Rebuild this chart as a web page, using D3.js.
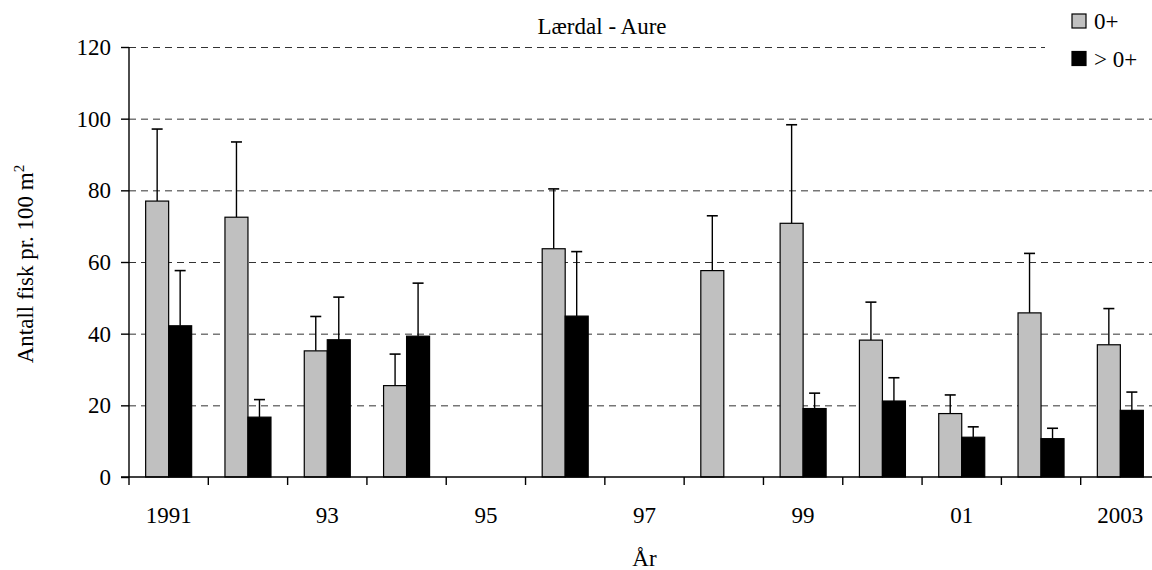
<!DOCTYPE html>
<html>
<head>
<meta charset="utf-8">
<script src="https://cdn.jsdelivr.net/npm/d3@7"></script>
<style>
  html, body { margin: 0; padding: 0; background: #fff; }
  svg, svg text { font-family: "Liberation Serif", "Times New Roman", "DejaVu Serif", serif; }
</style>
</head>
<body>
<svg id="chart" width="1152" height="570"></svg>
<script>
// Trout density in Lærdal, fish per 100 m², by year and age group
const years = ["1991","1992","1993","1994","1995","1996","1997","1998","1999","2000","2001","2002","2003"];
const yearLabels = ["1991","","93","","95","","97","","99","","01","","2003"];
const series = ["0+", "> 0+"];
const fry = [77, 72.5, 35.2, 25.5, null, 63.7, null, 57.6, 70.8, 38.2, 17.7, 45.8, 36.9];
const fryUpper = [97.1, 93.5, 44.8, 34.3, null, 80.4, null, 72.9, 98.3, 48.8, 22.9, 62.4, 47.0];
const older = [42.2, 16.7, 38.3, 39.3, null, 44.9, null, null, 19.1, 21.2, 11.1, 10.7, 18.6];
const olderUpper = [57.6, 21.6, 50.2, 54.1, null, 62.9, null, null, 23.4, 27.7, 14.0, 13.6, 23.7];
const yTicks = [0, 20, 40, 60, 80, 100, 120];
const fills = ["#c0c0c0", "#000000"];

const serif = "'Liberation Serif', 'Times New Roman', serif";
const svg = d3.select("#chart").attr("font-family", serif);
const plotLeft = 129, plotRight = 1160, plotTop = 47, plotBottom = 477;
const fontSize = 23;

const x = d3.scaleBand().domain(years).range([plotLeft, plotRight]).paddingInner(0).paddingOuter(0);
const x1 = d3.scaleBand().domain(series).range([0, x.bandwidth()]).paddingInner(0).paddingOuter(0.724);
const y = d3.scaleLinear().domain([0, 120]).range([plotBottom, plotTop]);

// dashed horizontal gridlines
svg.append("g")
  .selectAll("line")
  .data(yTicks.filter(t => t > 0))
  .join("line")
  .attr("x1", plotLeft).attr("x2", 1152)
  .attr("y1", d => y(d) + 0.5).attr("y2", d => y(d) + 0.5)
  .attr("stroke", "#333").attr("stroke-width", 1)
  .attr("stroke-dasharray", "7,5");

// bars
const rows = years.map((yr, i) => ({
  year: yr,
  vals: [
    { s: series[0], v: fry[i], u: fryUpper[i], fill: fills[0] },
    { s: series[1], v: older[i], u: olderUpper[i], fill: fills[1] }
  ]
}));

const groups = svg.append("g").selectAll("g")
  .data(rows).join("g")
  .attr("transform", d => `translate(${x(d.year)},0)`);

// error bars (drawn beneath bars so they start at the bar top)
groups.selectAll("g.err")
  .data(d => d.vals.filter(v => v.v != null && v.u != null))
  .join("g").attr("class", "err")
  .each(function(d) {
    const cx = x1(d.s) + x1.bandwidth() / 2;
    const g = d3.select(this);
    g.append("line")
      .attr("x1", cx).attr("x2", cx)
      .attr("y1", y(d.v)).attr("y2", y(d.u))
      .attr("stroke", "#000").attr("stroke-width", 1.4);
    g.append("line")
      .attr("x1", cx - 5.5).attr("x2", cx + 5.5)
      .attr("y1", y(d.u)).attr("y2", y(d.u))
      .attr("stroke", "#000").attr("stroke-width", 1.6);
  });

groups.selectAll("rect")
  .data(d => d.vals.filter(v => v.v != null))
  .join("rect")
  .attr("x", d => x1(d.s))
  .attr("width", x1.bandwidth())
  .attr("y", d => y(d.v))
  .attr("height", d => y(0) - y(d.v))
  .attr("fill", d => d.fill)
  .attr("stroke", "#000").attr("stroke-width", 1.2);

// y axis
const yAxis = d3.axisLeft(y).tickValues(yTicks).tickSize(8).tickPadding(10).tickFormat(d3.format("d"));
svg.append("g")
  .attr("transform", `translate(${plotLeft},0)`)
  .call(yAxis)
  .attr("font-family", serif)
  .call(g => g.select(".domain").attr("stroke", "#000").attr("stroke-width", 1.4).attr("d", `M0,${plotTop}V${plotBottom}`))
  .call(g => g.selectAll(".tick line").attr("stroke", "#000").attr("stroke-width", 1.4))
  .call(g => g.selectAll(".tick text")
    .attr("font-family", serif)
    .attr("font-size", fontSize).attr("fill", "#000"));

// x axis: line, boundary ticks and alternate-year labels
const xg = svg.append("g");
xg.append("line")
  .attr("x1", plotLeft - 8).attr("x2", plotRight)
  .attr("y1", plotBottom).attr("y2", plotBottom)
  .attr("stroke", "#000").attr("stroke-width", 1.6);
xg.selectAll("line.tk")
  .data(years)
  .join("line").attr("class", "tk")
  .attr("x1", d => x(d)).attr("x2", d => x(d))
  .attr("y1", plotBottom).attr("y2", plotBottom + 8)
  .attr("stroke", "#000").attr("stroke-width", 1.4);
xg.selectAll("text")
  .data(years.map((d, i) => ({ d, label: yearLabels[i] })).filter(o => o.label))
  .join("text")
  .attr("x", o => x(o.d) + x.bandwidth() / 2)
  .attr("y", 523)
  .attr("text-anchor", "middle")
  .attr("font-family", serif)
  .attr("font-size", fontSize)
  .text(o => o.label);

// axis titles
svg.append("text")
  .attr("x", (plotLeft + plotRight) / 2).attr("y", 566)
  .attr("text-anchor", "middle").attr("font-size", fontSize)
  .attr("font-family", serif)
  .text("År");

const yt = svg.append("text")
  .attr("transform", `translate(33,264) rotate(-90)`)
  .attr("text-anchor", "middle").attr("font-size", fontSize)
  .attr("font-family", serif);
yt.append("tspan").text("Antall fisk pr. 100 m");
yt.append("tspan").attr("dy", -9).attr("font-size", 15).text("2");

// title
svg.append("text")
  .attr("x", 602).attr("y", 34)
  .attr("text-anchor", "middle").attr("font-size", 23)
  .attr("font-family", serif)
  .text("Lærdal - Aure");

// legend
const lg = svg.append("g");
lg.append("rect").attr("x", 1045).attr("y", 0).attr("width", 107).attr("height", 80).attr("fill", "#fff");
const items = lg.selectAll("g.item")
  .data(series.map((s, i) => ({ s, fill: fills[i] })))
  .join("g").attr("class", "item")
  .attr("transform", (d, i) => `translate(1072,${14 + i * 37.5})`);
items.append("rect")
  .attr("width", 14).attr("height", 14)
  .attr("fill", d => d.fill).attr("stroke", "#000").attr("stroke-width", 1.2);
items.append("text")
  .attr("x", 22).attr("y", 15)
  .attr("font-family", serif)
  .attr("font-size", fontSize)
  .text(d => d.s);
</script>
</body>
</html>
